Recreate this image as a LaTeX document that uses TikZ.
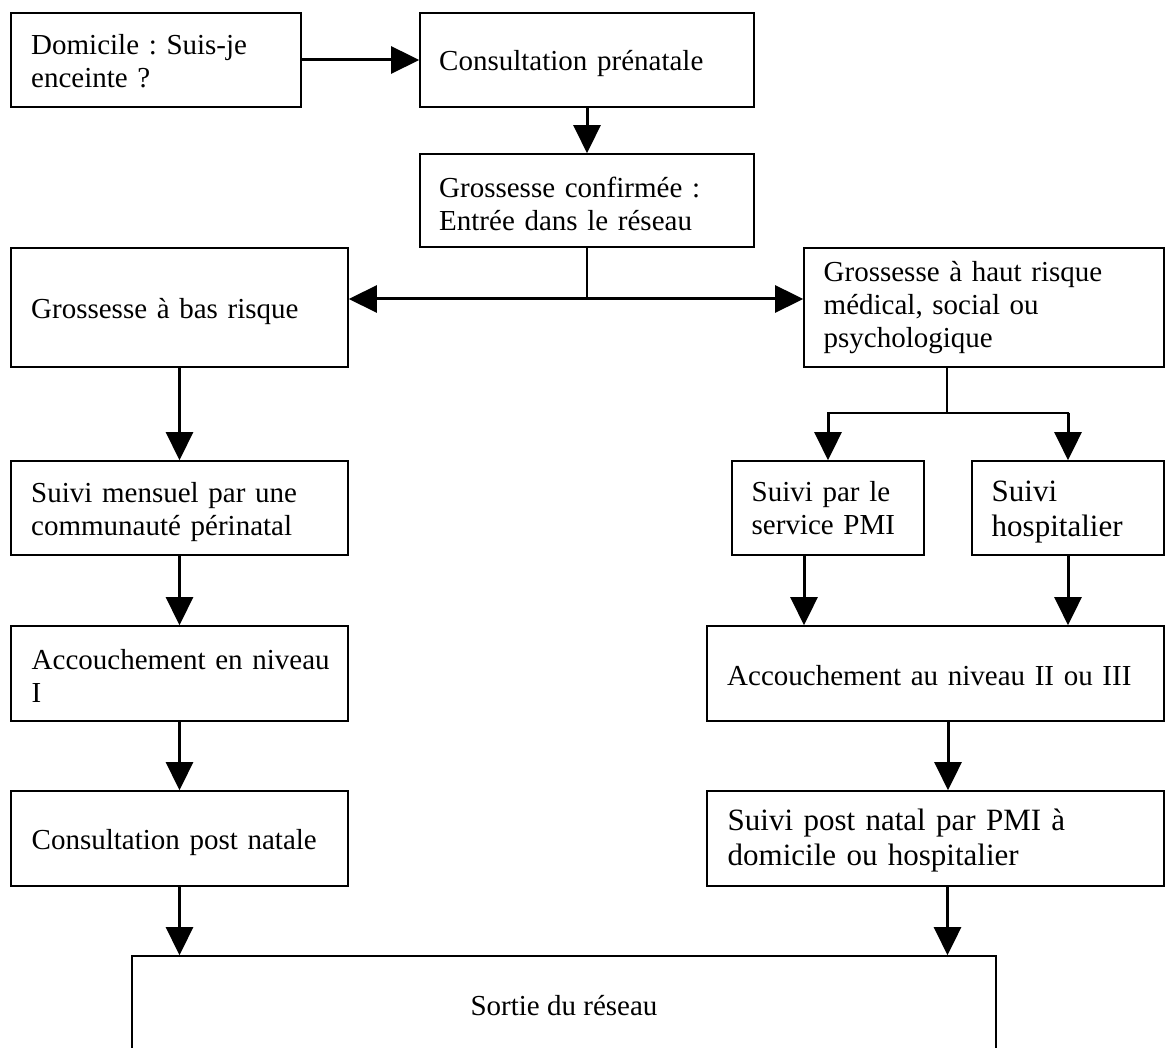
\documentclass[tikz,border=0pt]{standalone}
\usepackage{fontspec}
\setmainfont{Liberation Serif}
\frenchspacing
\usetikzlibrary{arrows.meta}
\tikzset{
  box/.style={draw, line width=1.7pt, inner sep=0pt, rectangle},
  txt/.style={anchor=base west, inner sep=0pt, text width=430pt, align=left,
              font=\frenchspacing\fontsize{29}{33}\selectfont},
  bigtxt/.style={txt, font=\frenchspacing\fontsize{31}{35.6}\selectfont},
  arr/.style={line width=3pt, -{Triangle[length=28pt,width=27pt]}},
  ln/.style={line width=2pt}
}
\begin{document}
\begin{tikzpicture}[x=1pt,y=-1pt]
\useasboundingbox (0,0) rectangle (1168,1048);
% boxes
\node[box, minimum width=290pt, minimum height=94pt] (dom) at (156,60) {};
\node[box, minimum width=334pt, minimum height=94pt] (cons) at (587,60) {};
\node[box, minimum width=334pt, minimum height=93pt] (conf) at (587,200.5) {};
\node[box, minimum width=337pt, minimum height=119pt] (bas) at (179.5,307.5) {};
\node[box, minimum width=360pt, minimum height=119pt] (haut) at (984,307.5) {};
\node[box, minimum width=337pt, minimum height=94pt] (mens) at (179.5,508) {};
\node[box, minimum width=192pt, minimum height=94pt] (pmi) at (828,508) {};
\node[box, minimum width=192pt, minimum height=94pt] (hosp) at (1068,508) {};
\node[box, minimum width=337pt, minimum height=95pt] (acc1) at (179.5,673.5) {};
\node[box, minimum width=457pt, minimum height=95pt] (acc2) at (935.5,673.5) {};
\node[box, minimum width=337pt, minimum height=95pt] (cpn) at (179.5,838.5) {};
\node[box, minimum width=457pt, minimum height=95pt] (spn) at (935.5,838.5) {};
\node[box, minimum width=864pt, minimum height=114pt] (sortie) at (564,1013) {};
% texts
\node[txt] (domt) at (31,54.5) {Domicile : Suis-je\\enceinte ?};
\node[txt] (const) at (439,71) {Consultation prénatale};
\node[txt] (conft) at (439,198) {Grossesse confirmée :\\Entrée dans le réseau};
\node[txt] (bast) at (31,319) {Grossesse à bas risque};
\node[txt] (hautt) at (823.5,282) {Grossesse à haut risque\\médical, social ou\\psychologique};
\node[txt] (menst) at (31,503) {Suivi mensuel par une\\communauté périnatal};
\node[txt] (pmit) at (751.5,501.5) {Suivi par le\\service PMI};
\node[bigtxt] (hospt) at (991.5,501) {Suivi\\hospitalier};
\node[txt] (acc1t) at (31.5,669) {Accouchement en niveau\\I};
\node[txt] (acc2t) at (727,685) {Accouchement au niveau II ou III};
\node[txt] (cpnt) at (31.5,849) {Consultation post natale};
\node[bigtxt] (spnt) at (727.5,830) {Suivi post natal par PMI à\\domicile ou hospitalier};
\node[anchor=base, inner sep=0pt, font=\fontsize{29}{33}\selectfont] (sortiet) at (564,1015) {Sortie du réseau};
% connectors
\draw[arr] (dom.east) -- (cons.west);
\draw[arr] (cons.south) -- (conf.north);
\coordinate (s1) at (587,299);
\draw[ln] (conf.south) -- (s1);
\draw[arr] (s1) -- (s1 -| bas.east);
\draw[arr] (s1) -- (s1 -| haut.west);
\draw[arr] (bas.south) -- (mens.north);
\coordinate (s2) at (947,412.7);
\draw[ln] (s2 |- haut.south) -- (s2);
\draw[ln, line cap=rect] (s2 -| pmi.north) -- (s2 -| hosp.north);
\draw[arr] (s2 -| pmi.north) -- (pmi.north);
\draw[arr] (s2 -| hosp.north) -- (hosp.north);
\draw[arr] ([xshift=-24pt]pmi.south) -- ([xshift=-24pt]pmi.south |- acc2.north);
\draw[arr] (hosp.south) -- (hosp.south |- acc2.north);
\draw[arr] (mens.south) -- (acc1.north);
\draw[arr] (acc1.south) -- (cpn.north);
\draw[arr] ([xshift=12.5pt]acc2.south) -- ([xshift=12.5pt]spn.north);
\draw[arr] (cpn.south) -- (cpn.south |- sortie.north);
\draw[arr] ([xshift=12pt]spn.south) -- ([xshift=12pt]spn.south |- sortie.north);
\end{tikzpicture}
\end{document}
